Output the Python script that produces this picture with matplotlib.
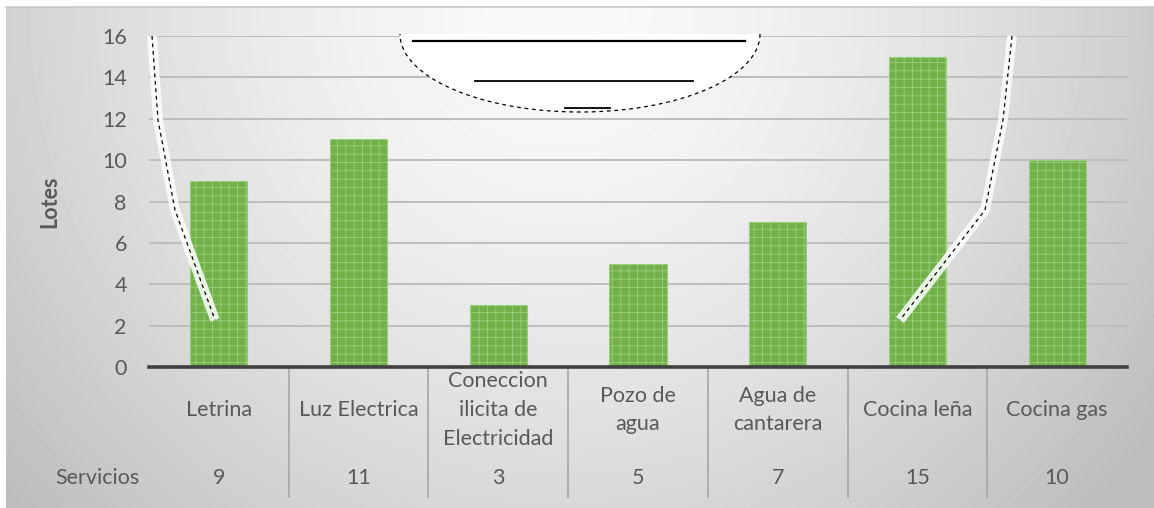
import numpy as np
import matplotlib.pyplot as plt
from matplotlib.transforms import blended_transform_factory

# data
categories = ["Letrina", "Luz Electrica", "Coneccion\nilicita de\nElectricidad",
              "Pozo de\nagua", "Agua de\ncantarera", "Cocina leña", "Cocina gas"]
servicios = [9, 11, 3, 5, 7, 15, 10]
y_ticks = [0, 2, 4, 6, 8, 10, 12, 14, 16]
series_name = "Servicios"
y_label = "Lotes"

W, H = 1154, 508
TXT = "#595959"
FS = 15.5
plt.rcParams["font.family"] = ["Lato", "DejaVu Sans"]
plt.rcParams["hatch.linewidth"] = 0.6

fig = plt.figure(figsize=(W / 100, H / 100), dpi=100)

# background overlay in pixel coords
bg = fig.add_axes([0, 0, 1, 1], zorder=0)
bg.set_xlim(0, W)
bg.set_ylim(H, 0)
bg.axis("off")
xx, yy = np.meshgrid(np.linspace(0, 1, 300), np.linspace(0, 1, 150))
r = np.sqrt(((xx - 0.48) / 0.6) ** 2 + (yy / 1.4) ** 2)
shade = np.clip(0.98 - 0.22 * r ** 1.5, 0.74, 1)
bg.imshow(shade, cmap="gray", vmin=0, vmax=1, extent=[6, W, H, 7],
          aspect="auto", interpolation="bilinear")
bg.plot([6, W], [7, 7], color="#c8c8c8", lw=1.2)

ax = fig.add_axes([149 / W, 1 - 367 / H, (1127 - 149) / W, (367 - 36) / H], zorder=1)
ax.patch.set_alpha(0)
x = np.arange(len(categories))
ax.bar(x, servicios, width=0.41, color="#72b04a", edgecolor="#9ccf7c",
       linewidth=0.8, hatch="++", zorder=3)

ax.set_xlim(-0.5, len(categories) - 0.5)
ax.set_ylim(0, 16)
ax.set_yticks(y_ticks)
ax.set_yticklabels([str(t) for t in y_ticks], fontsize=FS, color=TXT)
ax.tick_params(axis="y", length=0, pad=16)
ax.set_xticks([])
ax.grid(axis="y", color="#bdbdbd", lw=1.4, zorder=0)
for s in ["top", "right", "left"]:
    ax.spines[s].set_visible(False)
ax.spines["bottom"].set_color("#404040")
ax.spines["bottom"].set_linewidth(2.6)
ax.spines["bottom"].set_zorder(4)
ax.set_ylabel(y_label, fontsize=FS, fontweight="bold", color=TXT, labelpad=30)

# data table under the axis
tr = blended_transform_factory(ax.transData, ax.transAxes)
for i, (c, v) in enumerate(zip(categories, servicios)):
    ax.text(i, -0.130, c, transform=tr, ha="center", va="center",
            fontsize=FS, color=TXT, linespacing=1.55, clip_on=False)
    ax.text(i, -0.335, str(v), transform=tr, ha="center", va="center",
            fontsize=FS, color=TXT, clip_on=False)
for b in x[:-1] + 0.5:
    ax.plot([b, b], [0, -0.393], transform=tr, color="#a6a6a6", lw=1.2,
            clip_on=False, zorder=2)
ax.text(-0.565, -0.335, series_name, transform=tr, ha="right", va="center",
        fontsize=FS, color=TXT, clip_on=False)

# scan artifacts (white smudge and broken strokes)
top = fig.add_axes([0, 0, 1, 1], zorder=5)
top.set_xlim(0, W)
top.set_ylim(H, 0)
top.axis("off")
t = np.linspace(0, np.pi, 80)
arc_x = 580 + 180 * np.cos(t)
arc_y = 34 + 78 * np.sin(t)
top.fill(arc_x, arc_y, facecolor="white", edgecolor="none")
top.plot(arc_x, arc_y, color="black", lw=0.9, ls=(0, (3, 3)))
top.plot([413, 745], [41, 41], color="black", lw=1.6)
top.plot([475, 693], [81, 81], color="black", lw=1.3)
top.plot([565, 610], [108, 108], color="black", lw=1.3)
left_curve = [(152, 36), (158, 120), (175, 210), (215, 320)]
right_curve = [(1012, 36), (1003, 120), (985, 210), (900, 320)]
for pts in (left_curve, right_curve):
    px, py = zip(*pts)
    top.plot(px, py, color="white", lw=7, alpha=0.85, solid_capstyle="butt")
    top.plot(px, py, color="black", lw=0.9, ls=(0, (3, 3)))

fig.savefig("out.png", dpi=100)
